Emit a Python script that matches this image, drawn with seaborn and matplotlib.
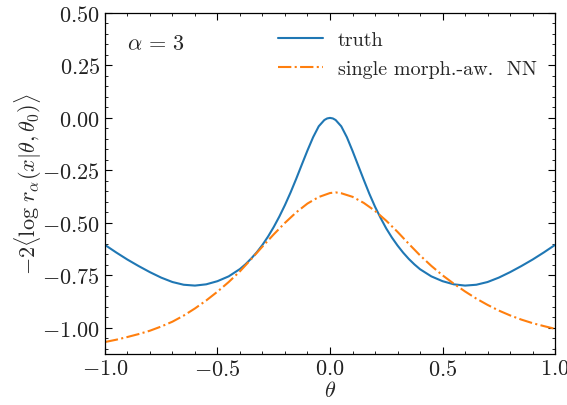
import matplotlib
matplotlib.use("Agg")
import matplotlib.pyplot as plt
import seaborn as sns
import pandas as pd
from matplotlib.ticker import MultipleLocator

# parameter grid for the exact curve (finer around the peak)
theta_truth = [-1.00, -0.95, -0.90, -0.85, -0.80, -0.75, -0.70, -0.65, -0.60, -0.55,
               -0.50, -0.45, -0.40, -0.375, -0.35, -0.325, -0.30, -0.275, -0.25, -0.225,
               -0.20, -0.175, -0.15, -0.125, -0.10, -0.075, -0.05, -0.025, -0.0125, 0.00,
               0.0125, 0.025, 0.05, 0.075, 0.10, 0.125, 0.15, 0.175, 0.20, 0.225, 0.25,
               0.275, 0.30, 0.325, 0.35, 0.375, 0.40, 0.45, 0.50, 0.55, 0.60,
               0.65, 0.70, 0.75, 0.80, 0.85, 0.90, 0.95, 1.00]

# exact expected log-likelihood ratio
truth = [-0.605, -0.641, -0.675, -0.706, -0.735, -0.761, -0.782, -0.795, -0.799, -0.793,
         -0.778, -0.755, -0.720, -0.697, -0.670, -0.640, -0.605, -0.565, -0.520, -0.470,
         -0.415, -0.355, -0.290, -0.222, -0.155, -0.092, -0.040, -0.010, -0.0025, 0.000,
         -0.0025, -0.010, -0.040, -0.092, -0.157, -0.226, -0.295, -0.362, -0.423, -0.477, -0.527,
         -0.570, -0.608, -0.642, -0.672, -0.698, -0.721, -0.755, -0.778, -0.793, -0.799,
         -0.795, -0.782, -0.761, -0.735, -0.706, -0.675, -0.641, -0.605]

# parameter grid for the network estimate
theta_nn = [-1.00, -0.95, -0.90, -0.85, -0.80, -0.75, -0.70, -0.65, -0.60, -0.55,
            -0.50, -0.45, -0.40, -0.35, -0.30, -0.25, -0.20, -0.15, -0.10, -0.05,
            0.00, 0.025, 0.05, 0.10, 0.15, 0.20, 0.25, 0.30, 0.35, 0.40,
            0.45, 0.50, 0.55, 0.60, 0.65, 0.70, 0.75, 0.80, 0.85, 0.90,
            0.95, 1.00]

# single morphing-aware network estimate
single_nn = [-1.068, -1.057, -1.044, -1.030, -1.014, -0.994, -0.971, -0.942, -0.908, -0.870,
             -0.828, -0.782, -0.731, -0.673, -0.613, -0.555, -0.500, -0.450, -0.408, -0.377,
             -0.358, -0.355, -0.359, -0.376, -0.405, -0.443, -0.490, -0.543, -0.600, -0.655,
             -0.705, -0.750, -0.790, -0.827, -0.861, -0.891, -0.918, -0.941, -0.961, -0.978,
             -0.992, -1.005]

labels = ["truth", "single morph.-aw.  NN"]

sns.set_style("ticks")
plt.rcParams.update({
    "font.family": "serif",
    "font.serif": ["cmr10"],
    "mathtext.fontset": "cm",
    "axes.formatter.use_mathtext": True,
    "axes.unicode_minus": True,
    "font.size": 16,
    "axes.linewidth": 0.9,
    "xtick.direction": "in",
    "ytick.direction": "in",
    "xtick.top": True,
    "ytick.right": True,
    "xtick.major.size": 5,
    "ytick.major.size": 5,
    "xtick.minor.size": 2.5,
    "ytick.minor.size": 2.5,
    "xtick.minor.visible": True,
    "ytick.minor.visible": True,
    "axes.edgecolor": "black",
})

df_truth = pd.DataFrame({"theta": theta_truth, "value": truth})
df_nn = pd.DataFrame({"theta": theta_nn, "value": single_nn})

fig = plt.figure(figsize=(5.67, 4.06), dpi=100)
ax = fig.add_axes([0.185, 0.1256, 0.794, 0.84])

sns.lineplot(data=df_truth, x="theta", y="value", ax=ax, color="#1f77b4", lw=1.5,
             label=labels[0])
sns.lineplot(data=df_nn, x="theta", y="value", ax=ax, color="#ff7f0e", lw=1.5,
             ls="-.", label=labels[1])

ax.set_xlim(-1.0, 1.0)
ax.set_ylim(-1.125, 0.5)
ax.xaxis.set_major_locator(MultipleLocator(0.5))
ax.xaxis.set_minor_locator(MultipleLocator(0.1))
ax.yaxis.set_major_locator(MultipleLocator(0.25))
ax.yaxis.set_minor_locator(MultipleLocator(0.05))
ax.tick_params(which="both", colors="black", labelcolor="#222222")

ax.set_xlabel(r"$\theta$", labelpad=1)
ax.set_ylabel(r"$-2\langle\log\,r_\alpha(x|\theta,\theta_0)\rangle$", labelpad=-1)

ax.text(0.05, 0.94, r"$\alpha\,=\,3$", transform=ax.transAxes, ha="left", va="top")

leg = ax.legend(loc="upper left", bbox_to_anchor=(0.345, 1.0), frameon=False,
                fontsize=14.5, handlelength=2.2, handletextpad=0.75, labelspacing=0.55)

fig.savefig("out.png", dpi=100)
